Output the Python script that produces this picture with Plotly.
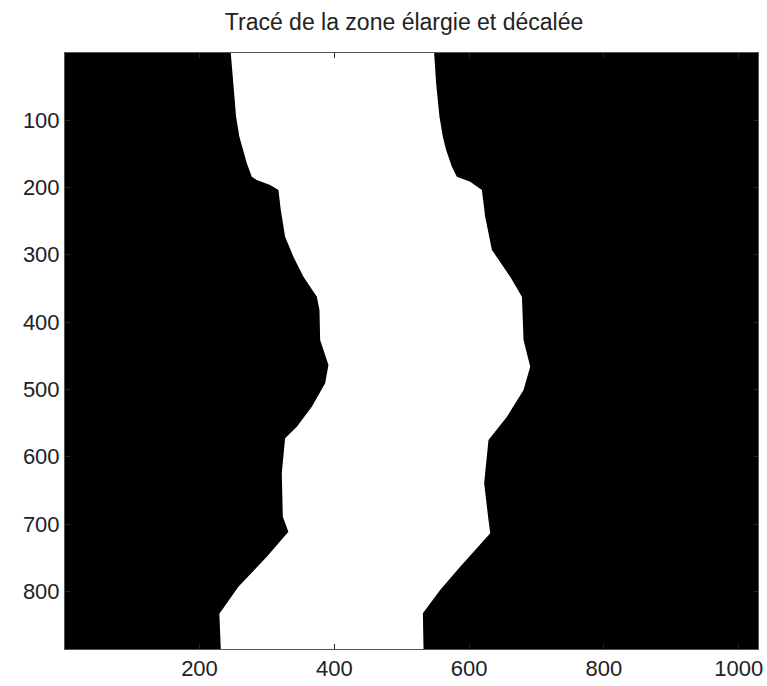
import plotly.graph_objects as go

# boundary of the white band (image pixel coordinates, y grows downward)
left_y = [0.5, 45.5, 95.1, 124.8, 144.5, 164.3, 184.2, 189.1, 196.5, 203.9, 233.6,
          273.3, 303.0, 332.7, 362.4, 382.2, 426.7, 463.8, 491.0, 525.7, 555.5,
          572.7, 624.6, 689.1, 711.4, 748.5, 793.0, 833.0, 885.5]
left_x = [246.4, 250.3, 254.3, 259.2, 264.2, 270.2, 277.6, 285.0, 304.7, 317.1, 320.6,
          327.0, 339.3, 354.2, 374.1, 378.0, 379.0, 391.3, 386.4, 366.6, 344.4,
          327.0, 322.1, 323.6, 331.9, 299.9, 257.7, 229.5, 231.6]

right_y = [0.5, 45.5, 95.1, 124.8, 144.5, 169.3, 184.2, 191.6, 203.9, 243.6, 293.0,
           332.7, 362.4, 426.7, 466.3, 501.0, 540.6, 575.2, 639.5, 694.0, 713.8,
           763.3, 797.9, 832.6, 885.5]
right_x = [548.1, 551.0, 556.0, 561.0, 565.9, 574.4, 581.8, 601.6, 618.9, 623.8, 633.8,
           660.9, 678.3, 680.7, 690.6, 680.7, 656.1, 628.7, 622.3, 628.7, 631.3,
           586.7, 557.0, 531.4, 532.3]

x_ticks = [200, 400, 600, 800, 1000]
y_ticks = [100, 200, 300, 400, 500, 600, 700, 800]
title = "Tracé de la zone élargie et décalée"

xs = left_x + right_x[::-1]
ys = left_y + right_y[::-1]

fig = go.Figure()
fig.add_trace(go.Scatter(x=xs, y=ys, mode="lines", fill="toself",
                         fillcolor="white", line=dict(width=0, color="white"),
                         hoverinfo="skip", showlegend=False))

font = dict(family="Liberation Sans, Arial, sans-serif", color="#222222")
axis = dict(showgrid=False, zeroline=False, ticks="inside", ticklen=5,
            tickcolor="#222222", showline=True, linecolor="#555555", linewidth=1,
            mirror="ticks", tickfont=dict(size=22), automargin=False)
fig.update_layout(
    width=767, height=686,
    margin=dict(l=65, r=9, t=53, b=37, autoexpand=False),
    paper_bgcolor="white", plot_bgcolor="black",
    font=font,
    title=dict(text=title, x=404 / 767, xanchor="center", y=1 - 22 / 686,
               yanchor="middle", font=dict(size=23)),
    xaxis=dict(axis, range=[0.5, 1028.5], tickvals=x_ticks),
    yaxis=dict(axis, range=[885.5, 0.5], tickvals=y_ticks),
)
# drop the default page margin so the figure sits at the window's corner
fig.write_html("out.html", config={"displayModeBar": False},
               post_script="document.body.style.margin='0';")
